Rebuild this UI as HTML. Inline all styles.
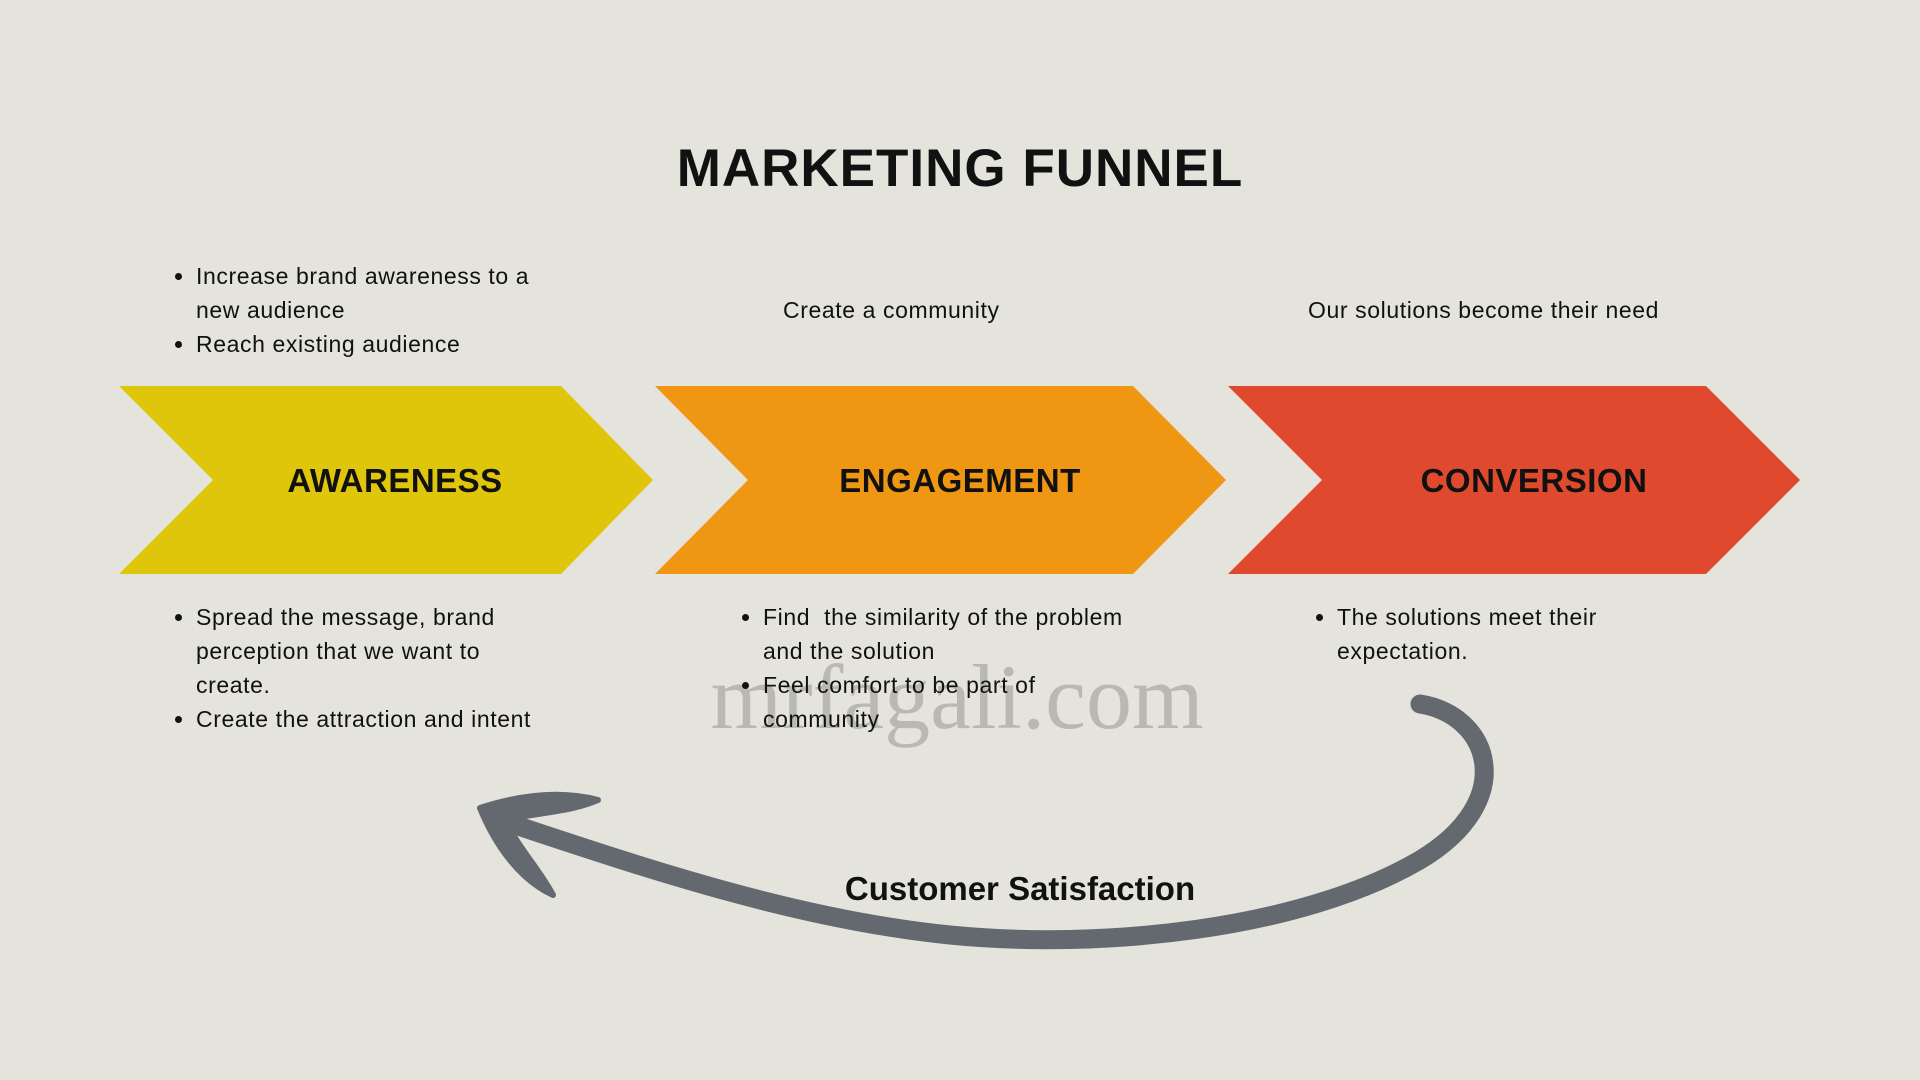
<!DOCTYPE html>
<html><head><meta charset="utf-8"><style>
html,body{margin:0;padding:0}
body{width:1920px;height:1080px;background:#E4E3DC;position:relative;overflow:hidden;font-family:"Liberation Sans",sans-serif;color:#111}
.t{position:absolute;font-size:23px;line-height:34px;letter-spacing:0.6px;white-space:nowrap}
.b{position:absolute}
.b li{margin:0;padding:0}
ul{margin:0;padding-left:24px}
.lab{position:absolute;font-weight:bold;font-size:33px;transform:translate(-50%,-50%);white-space:nowrap;letter-spacing:0.5px}
</style></head><body>
<svg width="1920" height="1080" style="position:absolute;left:0;top:0">
<polygon points="119,386 561,386 653,480 561,574 119,574 213,480" fill="#E0C60A"/>
<polygon points="655,386 1133,386 1226,480 1133,574 655,574 748,480" fill="#EF9612"/>
<polygon points="1228,386 1706,386 1800,480 1706,574 1228,574 1322,480" fill="#DF4A2E"/>
<text x="957" y="728" font-family="Liberation Serif,serif" font-size="92" fill="#b5b4ae" text-anchor="middle" opacity="0.9">mrfagali.com</text>
<path d="M1420,704 C1490,715 1520,800 1420,860 C1300,930 1100,950 950,935 C800,920 650,870 500,820" fill="none" stroke="#646970" stroke-width="19" stroke-linecap="round"/>
<path d="M480,808 C520,795 560,790 598,800 C570,812 540,812 505,820 C520,850 540,870 553,895 C520,880 495,845 480,808 Z" fill="#646970" stroke="#646970" stroke-width="6" stroke-linejoin="round"/>
</svg>
<div style="position:absolute;left:0;width:1920px;top:138px;text-align:center;font-weight:bold;font-size:53px;letter-spacing:1px">MARKETING FUNNEL</div>
<div class="lab" style="left:395px;top:481px">AWARENESS</div>
<div class="lab" style="left:960px;top:481px">ENGAGEMENT</div>
<div class="lab" style="left:1534px;top:481px">CONVERSION</div>
<div class="t b" style="left:172px;top:259px"><ul><li>Increase brand awareness to a<br>new audience</li><li>Reach existing audience</li></ul></div>
<div class="t" style="left:783px;top:293px">Create a community</div>
<div class="t" style="left:1308px;top:293px">Our solutions become their need</div>
<div class="t b" style="left:172px;top:600px"><ul><li>Spread the message, brand<br>perception that we want to<br>create.</li><li>Create the attraction and intent</li></ul></div>
<div class="t b" style="left:739px;top:600px"><ul><li>Find&nbsp; the similarity of the problem<br>and the solution</li><li>Feel comfort to be part of<br>community</li></ul></div>
<div class="t b" style="left:1313px;top:600px"><ul><li>The solutions meet their<br>expectation.</li></ul></div>
<div style="position:absolute;left:1020px;top:889px;transform:translate(-50%,-50%);font-weight:bold;font-size:33px;white-space:nowrap">Customer Satisfaction</div>
</body></html>
